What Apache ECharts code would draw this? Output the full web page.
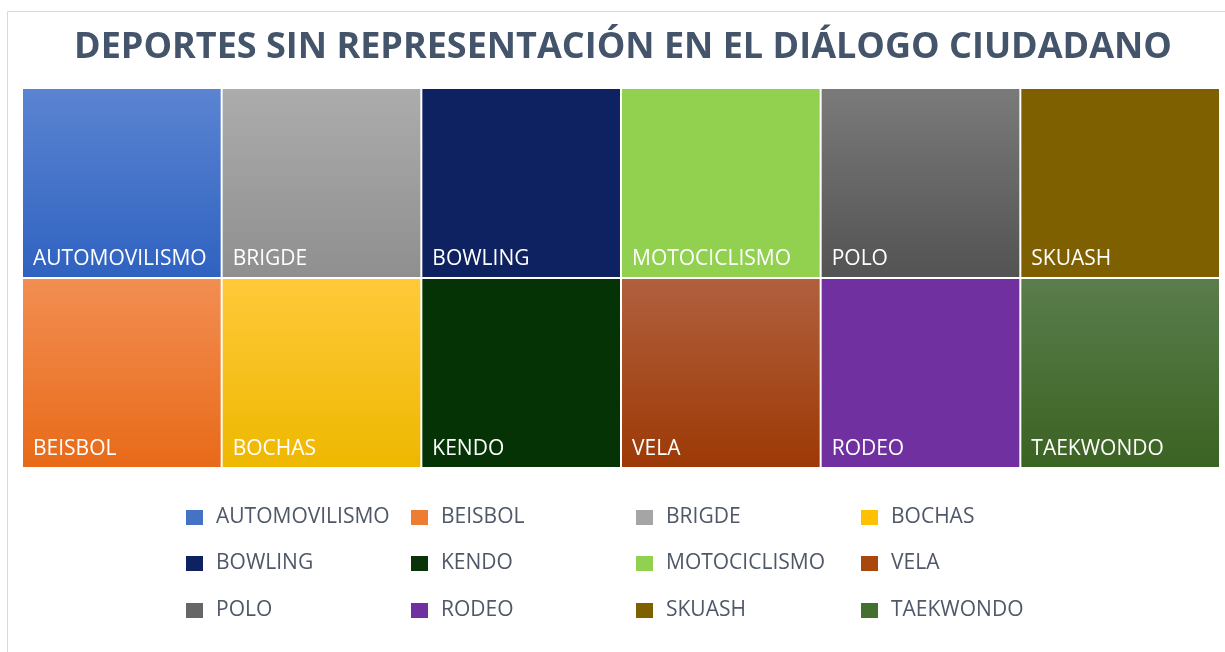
<!DOCTYPE html>
<html>
<head>
<meta charset="utf-8">
<script src="https://cdn.jsdelivr.net/npm/echarts@6/dist/echarts.min.js"></script>
<style>
  html, body { margin: 0; padding: 0; background: #fff; }
  #main { width: 1225px; height: 652px; }
</style>
</head>
<body>
<div id="main"></div>
<script>
// deportes (orden del treemap: columna por columna, arriba y abajo)
const deportes = ["AUTOMOVILISMO", "BEISBOL", "BRIGDE", "BOCHAS", "BOWLING", "KENDO",
                  "MOTOCICLISMO", "VELA", "POLO", "RODEO", "SKUASH", "TAEKWONDO"];
// todos pesan lo mismo
const valores = [1, 1, 1, 1, 1, 1, 1, 1, 1, 1, 1, 1];
const columnas = ["c1", "c2", "c3", "c4", "c5", "c6"];
const filas = ["arriba", "abajo"];

// colores: base (leyenda), arriba y abajo del degradado
const colorBase = ["#4472c4", "#ed7d31", "#a5a5a5", "#ffc000", "#0e2261", "#0a330a",
                   "#92d050", "#a8480f", "#666666", "#7030a0", "#7f6000", "#43702f"];
const colorArriba = ["#5b84d2", "#f28e52", "#acacac", "#ffc93a", "#0e2261", "#063306",
                     "#92d050", "#b0603e", "#7a7a7a", "#7030a0", "#7f6000", "#5a7d4c"];
const colorAbajo = ["#2f62c0", "#e86a18", "#8f8f8f", "#eeb800", "#0e2261", "#063306",
                    "#92d050", "#9d3906", "#535353", "#7030a0", "#7f6000", "#3b6322"];

const fuente = "'Open Sans', 'Noto Sans', sans-serif";

(() => {
    let chart = echarts.init(document.getElementById("main"));

    let seriesData = [];
    for (let i = 0; i < deportes.length; i++) {
        let col = Math.floor(i / 2);
        let fila = i % 2;
        seriesData.push({
            name: deportes[i],
            type: "custom",
            itemStyle: { color: colorBase[i] },
            data: [[col, fila, valores[i]]],
            renderItem: function (params, api) {
                let c = api.coord([api.value(0), api.value(1)]);
                let s = api.size([1, 1]);
                let x0 = c[0] - s[0] / 2 + 1;
                let y0 = c[1] - s[1] / 2 + 1;
                let w = s[0] - 2;
                let h = s[1] - 2;
                return {
                    type: "group",
                    children: [{
                        type: "rect",
                        shape: { x: x0, y: y0, width: w, height: h },
                        style: {
                            fill: new echarts.graphic.LinearGradient(0, 0, 0, 1, [
                                { offset: 0, color: colorArriba[i] },
                                { offset: 1, color: colorAbajo[i] }
                            ])
                        }
                    }, {
                        type: "text",
                        style: {
                            x: x0 + 10,
                            y: y0 + h - 18,
                            text: deportes[i],
                            fill: "#ffffff",
                            font: "21px " + fuente,
                            verticalAlign: "middle",
                            align: "left"
                        }
                    }]
                };
            }
        });
    }

    // leyenda: 3 filas de 4
    let leyendas = [];
    let topsLeyenda = [507, 553, 600];
    for (let r = 0; r < 3; r++) {
        leyendas.push({
            data: deportes.slice(r * 4, r * 4 + 4),
            left: 186,
            top: topsLeyenda[r],
            padding: 0,
            orient: "horizontal",
            icon: "rect",
            itemWidth: 17,
            itemHeight: 15,
            itemGap: 0,
            selectedMode: false,
            textStyle: {
                fontFamily: fuente,
                fontSize: 21,
                color: "#4f5869",
                width: 195,
                lineHeight: 20,
                padding: [0, 0, 0, 8]
            }
        });
    }

    chart.setOption({
        animation: false,
        title: {
            text: "DEPORTES SIN REPRESENTACIÓN EN EL DIÁLOGO CIUDADANO",
            left: 618,
            textAlign: "center",
            top: 22,
            textStyle: {
                fontFamily: fuente,
                fontWeight: "bold",
                fontSize: 36,
                lineHeight: 42,
                color: "#44546a"
            }
        },
        legend: leyendas,
        grid: { left: 22, right: 5, top: 88, bottom: 184 },
        xAxis: { type: "category", data: columnas, show: false },
        yAxis: { type: "category", data: filas, inverse: true, show: false },
        graphic: [{
            type: "rect",
            shape: { x: 7.5, y: 11.5, width: 1300, height: 700 },
            style: { fill: null, stroke: "#d9d9d9", lineWidth: 1 },
            silent: true
        }],
        series: seriesData
    });
})();
</script>
</body>
</html>
